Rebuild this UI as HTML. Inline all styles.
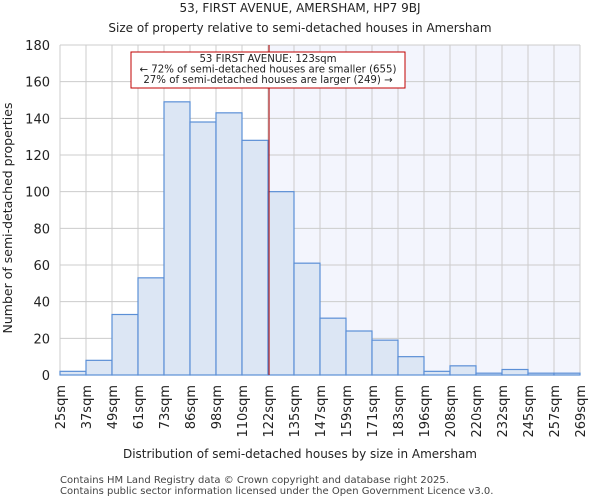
<!DOCTYPE html>
<html><head><meta charset="utf-8"><style>
body{margin:0;background:#fff;font-family:"DejaVu Sans","Liberation Sans",sans-serif;}
svg text{font-family:"DejaVu Sans","Liberation Sans",sans-serif;fill:#222;}
</style></head><body>
<svg id="c" width="600" height="500" xmlns="http://www.w3.org/2000/svg">
<text x="300" y="12" font-size="12" text-anchor="middle">53, FIRST AVENUE, AMERSHAM, HP7 9BJ</text>
<text x="300" y="32" font-size="12" text-anchor="middle">Size of property relative to semi-detached houses in Amersham</text>
<g id="plot"></g>
<text x="300" y="458" font-size="12" text-anchor="middle">Distribution of semi-detached houses by size in Amersham</text>
<text x="12" y="218" font-size="12.5" text-anchor="middle" transform="rotate(-90 12 218)">Number of semi-detached properties</text>
<text x="60" y="483" font-size="10" style="fill:#444">Contains HM Land Registry data © Crown copyright and database right 2025.</text>
<text x="60" y="494" font-size="10" style="fill:#444">Contains public sector information licensed under the Open Government Licence v3.0.</text>
</svg>
<script>
const tickLabels=["25sqm","37sqm","49sqm","61sqm","73sqm","86sqm","98sqm","110sqm","122sqm","135sqm","147sqm","159sqm","171sqm","183sqm","196sqm","208sqm","220sqm","232sqm","245sqm","257sqm","269sqm"];
const counts=[2,8,33,53,149,138,143,128,100,61,31,24,19,10,2,5,1,3,1,1];
const yTicks=[0,20,40,60,80,100,120,140,160,180];
const markerBin=8.04;
const NS="http://www.w3.org/2000/svg";
const g=document.getElementById('plot');
const X0=60,X1=580,Y0=375,Y1=45;
const bw=(X1-X0)/counts.length;
const xs=i=>X0+i*bw;
const ys=v=>Y0-(v/180)*(Y0-Y1);
function mk(t,a){const e=document.createElementNS(NS,t);for(const k in a)e.setAttribute(k,a[k]);g.appendChild(e);return e;}
let e;
const mx=xs(markerBin);
e=mk('rect',{x:mx,y:Y1,width:X1-mx,height:Y0-Y1,fill:'#f3f5fd'});


yTicks.forEach(v=>{
 e=mk('line',{x1:X0,x2:X1,y1:ys(v),y2:ys(v),stroke:'#cccccc','stroke-width':1});
 
 
 e=mk('text',{x:X0-10,y:ys(v)+5,'font-size':13,'text-anchor':'end'});e.textContent=v;
 
 
});
tickLabels.forEach((l,i)=>{
 e=mk('line',{x1:xs(i),x2:xs(i),y1:Y1,y2:Y0,stroke:'#cccccc','stroke-width':1});
 
 
 const x=xs(i)+5,y=385;
 e=mk('text',{x:x,y:y,'font-size':13,'text-anchor':'end',transform:`rotate(-90 ${x} ${y})`});e.textContent=l;
 
 
});
counts.forEach((c,i)=>{
 e=mk('rect',{x:xs(i),y:ys(c),width:bw,height:Y0-ys(c),fill:'#dce6f4',stroke:'#5b8fd6','stroke-width':1.2});
 
 
});
e=mk('line',{x1:mx,x2:mx,y1:Y1,y2:Y0,stroke:'#b00000','stroke-width':1});


e=mk('rect',{x:131,y:52,width:274,height:36,fill:'#fff',stroke:'#c00000','stroke-width':1});


[["53 FIRST AVENUE: 123sqm",62],["← 72% of semi-detached houses are smaller (655)",72.5],["27% of semi-detached houses are larger (249) →",83]].forEach(([t,y])=>{
 e=mk('text',{x:268,y:y,'font-size':10.2,'text-anchor':'middle'});e.textContent=t;
 
 
});
</script>
</body></html>
